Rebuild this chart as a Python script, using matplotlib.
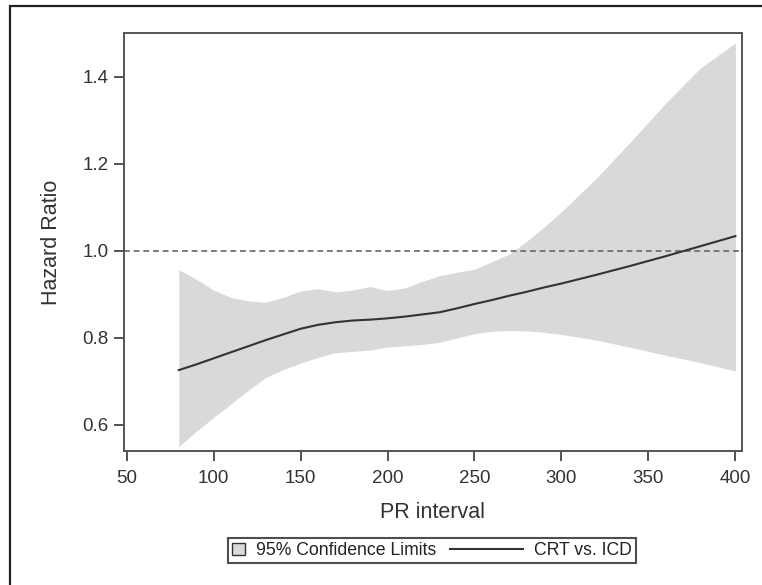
import matplotlib.pyplot as plt
from matplotlib.patches import Patch, Rectangle
from matplotlib.lines import Line2D
from matplotlib.legend_handler import HandlerBase

plt.rcParams['font.family'] = ['Liberation Sans', 'DejaVu Sans']

# PR interval grid and read-off values
pr = [80, 90, 100, 110, 120, 130, 140, 150, 160, 170, 180, 190, 200, 210,
      220, 230, 240, 250, 260, 270, 280, 290, 300, 320, 340, 360, 380, 400]
hr = [0.726, 0.739, 0.753, 0.767, 0.781, 0.795, 0.808, 0.821, 0.830, 0.836,
      0.840, 0.842, 0.845, 0.849, 0.854, 0.859, 0.868, 0.878, 0.887, 0.897,
      0.906, 0.916, 0.925, 0.945, 0.966, 0.988, 1.011, 1.034]
upper = [0.957, 0.935, 0.910, 0.893, 0.885, 0.882, 0.893, 0.908, 0.913, 0.906,
         0.910, 0.918, 0.909, 0.915, 0.930, 0.943, 0.951, 0.958, 0.975, 0.993,
         1.022, 1.055, 1.090, 1.167, 1.252, 1.340, 1.421, 1.478]
lower = [0.550, 0.585, 0.617, 0.648, 0.680, 0.709, 0.727, 0.742, 0.755, 0.766,
         0.769, 0.772, 0.779, 0.782, 0.785, 0.790, 0.800, 0.810, 0.815, 0.817,
         0.816, 0.813, 0.808, 0.795, 0.778, 0.760, 0.743, 0.724]

xticks = [50, 100, 150, 200, 250, 300, 350, 400]
yticks = [0.6, 0.8, 1.0, 1.2, 1.4]


class LongLineHandler(HandlerBase):
    # draws the legend line longer than the handle box, reaching to the left
    def create_artists(self, legend, orig_handle, xdescent, ydescent,
                       width, height, fontsize, trans):
        y = height / 2 - ydescent
        x1 = width - xdescent
        x0 = x1 - 4.15 * fontsize
        ln = Line2D([x0, x1], [y, y], color=orig_handle.get_color(),
                    linewidth=orig_handle.get_linewidth())
        ln.set_transform(trans)
        return [ln]


fig = plt.figure(figsize=(7.62, 5.85), dpi=100)
ax = fig.add_axes([124 / 762, 1 - 451 / 585, (742 - 124) / 762, (451 - 33) / 585])

ax.fill_between(pr, lower, upper, color='#d9d9d9', linewidth=0)
ax.axhline(1.0, color='#666666', linewidth=1.2, dashes=(3.5, 2.3))
ax.plot(pr, hr, color='#333333', linewidth=1.5)

ax.set_xlim(48.5, 403.8)
ax.set_ylim(0.540, 1.501)
ax.set_xticks(xticks)
ax.set_yticks(yticks)
ax.set_yticklabels(['%.1f' % v for v in yticks])
ax.tick_params(direction='out', length=7, width=1.3, colors='#444444',
               labelsize=13.5, labelcolor='#333333', pad=4)
ax.tick_params(axis='x', pad=6.5)
for s in ax.spines.values():
    s.set_color('#555555')
    s.set_linewidth(1.4)

ax.set_xlabel('PR interval', fontsize=15.5, color='#333333', labelpad=11)
ax.set_ylabel('Hazard Ratio', fontsize=15.5, color='#333333', labelpad=15)

band_proxy = Patch(facecolor='#d9d9d9', edgecolor='#333333', linewidth=1)
line_proxy = Line2D([], [], color='#333333', linewidth=1.5)
leg = fig.legend([band_proxy, line_proxy], ['95% Confidence Limits', 'CRT vs. ICD'],
                 loc='center', bbox_to_anchor=(432 / 762, 1 - 550.5 / 585),
                 ncol=2, fontsize=12.7, frameon=True, fancybox=False,
                 edgecolor='#222222', borderpad=0.25, handlelength=0.75,
                 handleheight=0.7, handletextpad=0.6, columnspacing=4.2,
                 borderaxespad=0, handler_map={line_proxy: LongLineHandler()})
leg.get_frame().set_linewidth(1.5)
for t in leg.get_texts():
    t.set_color('#222222')

# outer frame of the figure (cropped on right and bottom)
fig.patches.append(Rectangle((10 / 762, -0.1), 1.2, 1.1 + (1 - 6.5 / 585) - 1,
                             transform=fig.transFigure, fill=False,
                             edgecolor='#222222', linewidth=1.6, clip_on=False))

fig.savefig('out.png', dpi=100)
